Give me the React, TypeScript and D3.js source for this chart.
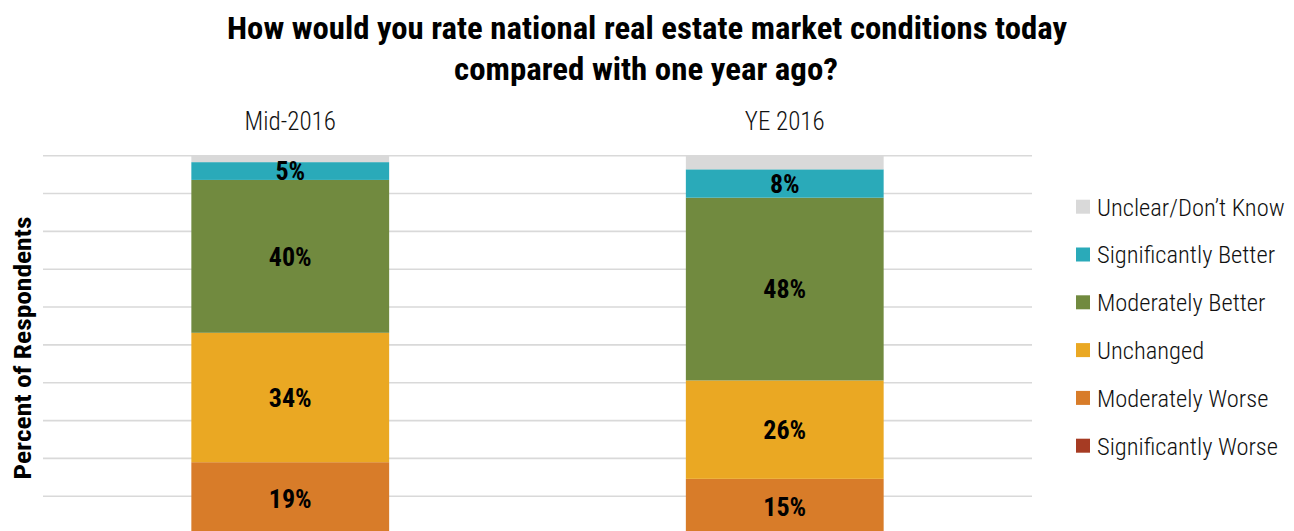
import * as d3 from "d3";

// survey periods
const periods = ["Mid-2016", "YE 2016"];

// series, bottom to top of each stack
const seriesNames = [
  "Significantly Worse",
  "Moderately Worse",
  "Unchanged",
  "Moderately Better",
  "Significantly Better",
  "Unclear/Don't Know",
];
const sigWorse = [0, 0];
const modWorse = [19.0, 14.6];
const unchanged = [34.2, 26.0];
const modBetter = [40.4, 48.3];
const sigBetter = [4.7, 7.5];
const unclear = [1.7, 3.6];

const legendOrder = [
  "Unclear/Don\u2019t Know",
  "Significantly Better",
  "Moderately Better",
  "Unchanged",
  "Moderately Worse",
  "Significantly Worse",
];

const yTicks = [0, 10, 20, 30, 40, 50, 60, 70, 80, 90, 100];

const colors: Record<string, string> = {
  "Significantly Worse": "#a63b23",
  "Moderately Worse": "#d87c29",
  Unchanged: "#eaa823",
  "Moderately Better": "#718a3f",
  "Significantly Better": "#2aaab9",
  "Unclear/Don't Know": "#d9d9d9",
};

const W = 1294;
const H = 531;
const FONT = "'Roboto Condensed', 'Liberation Sans Narrow', 'DejaVu Sans Condensed', 'Noto Sans', sans-serif";

function App() {
  // build rows for d3.stack
  const rows = periods.map((p, i) => ({
    period: p,
    "Significantly Worse": sigWorse[i],
    "Moderately Worse": modWorse[i],
    Unchanged: unchanged[i],
    "Moderately Better": modBetter[i],
    "Significantly Better": sigBetter[i],
    "Unclear/Don't Know": unclear[i],
  }));
  const stacked = d3.stack<any>().keys(seriesNames)(rows);

  const x = d3.scaleBand().domain(periods).range([43, 1032]).paddingInner(0.6).paddingOuter(0.3);
  const y = d3.scaleLinear().domain([0, 100]).range([534.1, 155.7]);

  const labelled = ["Moderately Worse", "Unchanged", "Moderately Better", "Significantly Better"];

  return (
    <svg width={W} height={H} style={{ position: "absolute", left: 0, top: 0, background: "#fff" }}>
      {/* title */}
      <text x={647} y={39} textAnchor="middle" fontFamily={FONT} fontWeight="bold" fontSize={31}
        textLength={840} lengthAdjust="spacingAndGlyphs">
        How would you rate national real estate market conditions today
      </text>
      <text x={646} y={80} textAnchor="middle" fontFamily={FONT} fontWeight="bold" fontSize={31}
        textLength={384} lengthAdjust="spacingAndGlyphs">
        compared with one year ago?
      </text>

      {/* y axis title */}
      <text transform="translate(31,348) rotate(-90)" textAnchor="middle" fontFamily={FONT}
        fontWeight="bold" fontSize={23} textLength={263} lengthAdjust="spacingAndGlyphs">
        Percent of Respondents
      </text>

      {/* grid */}
      {yTicks.map((t) => (
        <line key={t} x1={43} x2={1032} y1={y(t)} y2={y(t)} stroke="#d9d9d9" strokeWidth={1.6} />
      ))}

      {/* category labels */}
      {periods.map((p) => (
        <text key={p} x={x(p)! + x.bandwidth() / 2} y={130} textAnchor="middle" fontFamily={FONT}
          fontSize={25} fontWeight={300} fill="#111">
          {p}
        </text>
      ))}

      {/* bars */}
      {stacked.map((s) => (
        <g key={s.key} fill={colors[s.key]}>
          {s.map((d, i) => (
            <rect key={i} x={x(periods[i])} width={x.bandwidth()} y={y(d[1])}
              height={Math.max(0, y(d[0]) - y(d[1]))} />
          ))}
        </g>
      ))}

      {/* value labels */}
      {stacked
        .filter((s) => labelled.includes(s.key))
        .map((s) =>
          s.map((d, i) => (
            <text key={s.key + i} x={x(periods[i])! + x.bandwidth() / 2} y={y((d[0] + d[1]) / 2)}
              dy="0.36em" textAnchor="middle" fontFamily={FONT} fontWeight="bold" fontSize={26}
              fill="#000">
              {Math.round(d[1] - d[0])}%
            </text>
          ))
        )}

      {/* legend */}
      {legendOrder.map((name, i) => {
        const key = name.replace("\u2019", "'");
        const cy = 206.7 + i * 47.8;
        return (
          <g key={name}>
            <rect x={1076} y={cy - 7} width={14} height={14} fill={colors[key]} />
            <text x={1097} y={cy} dy="0.36em" fontFamily={FONT} fontSize={24.5} fontWeight={300}
              fill="#111">
              {name}
            </text>
          </g>
        );
      })}
    </svg>
  );
}

export default App;
